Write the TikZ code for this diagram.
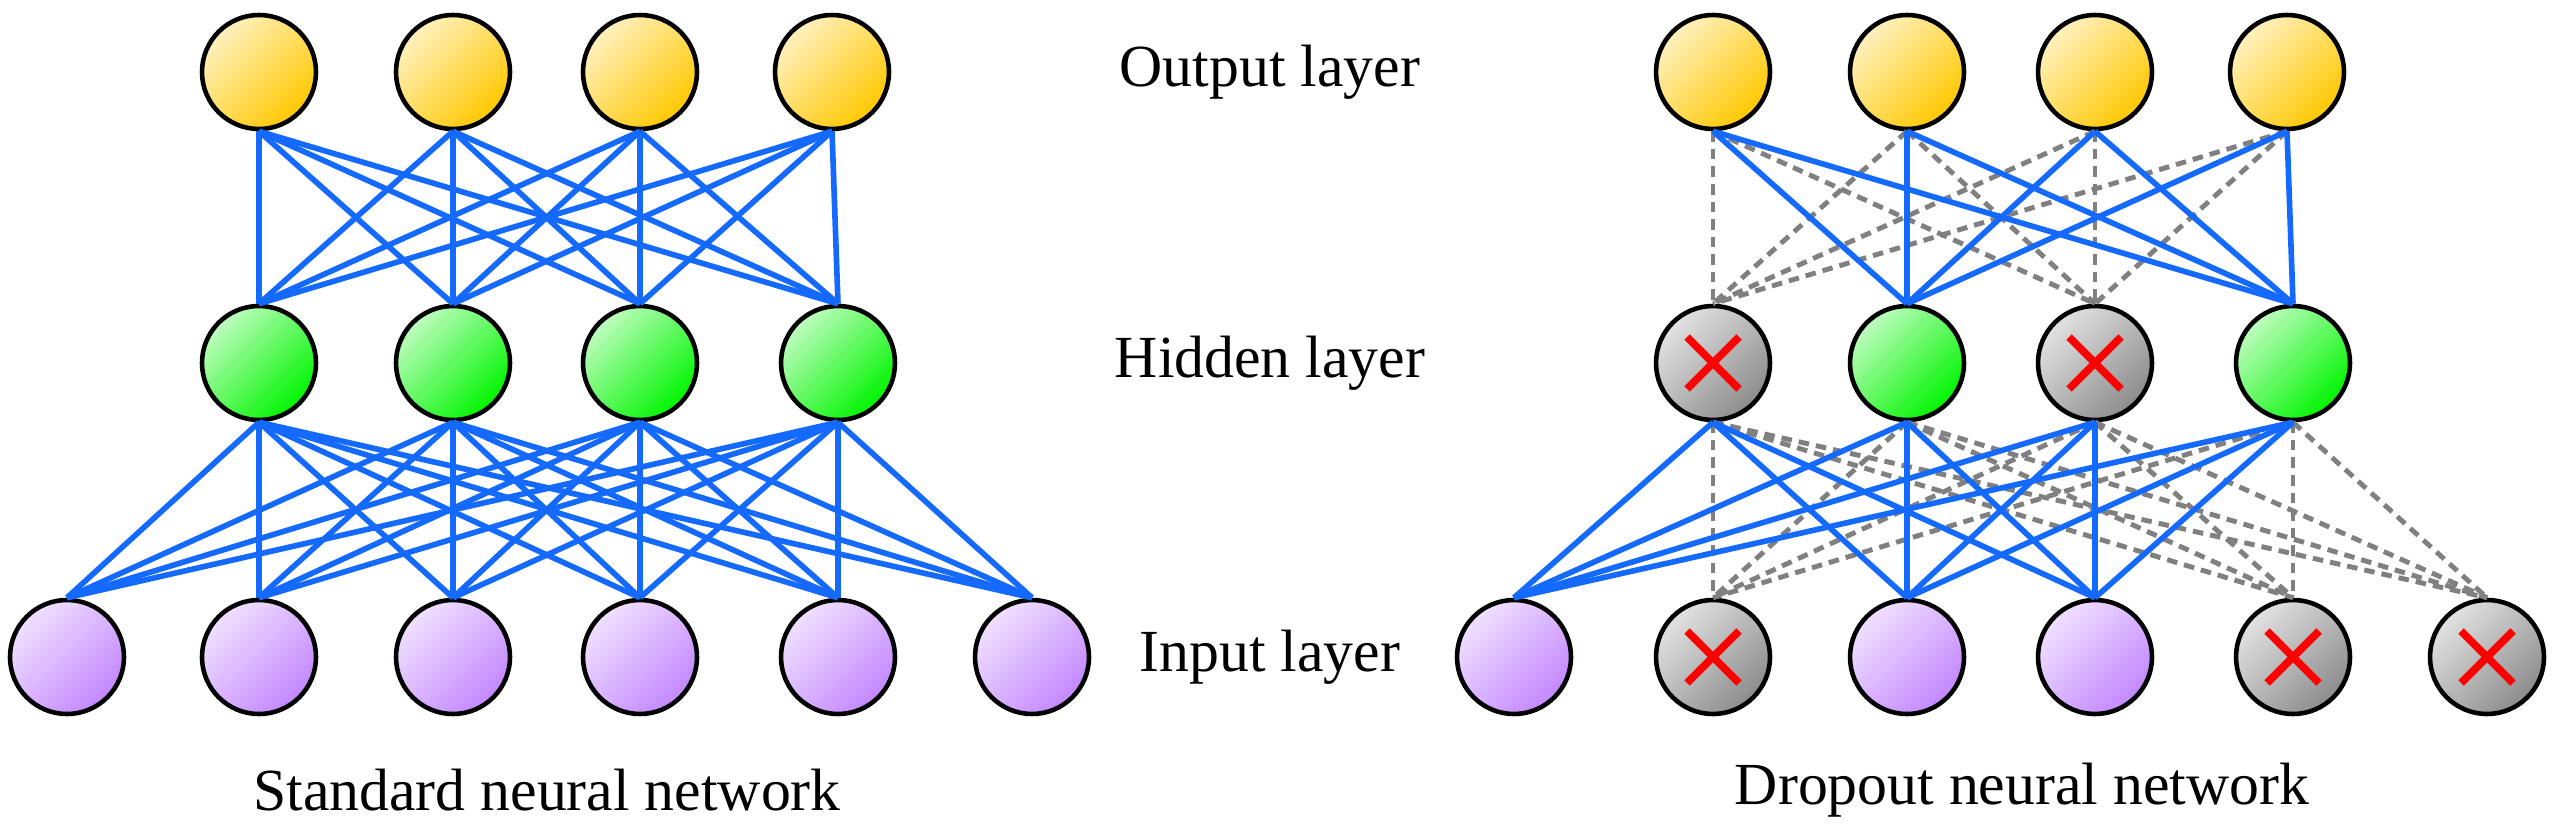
\documentclass[tikz,border=0pt]{standalone}
\usepackage{fontspec}
\setmainfont{Liberation Serif}
\usetikzlibrary{positioning}

\definecolor{linkblue}{RGB}{20,105,255}
\definecolor{outcol}{RGB}{255,200,0}
\definecolor{hidcol}{RGB}{0,245,0}
\definecolor{incol}{RGB}{195,135,255}
\definecolor{offcol}{RGB}{140,140,140}

\tikzset{
  neuron/.style={circle, draw, line width=1.3pt, minimum size=1.14cm, inner sep=0pt},
  outn/.style={neuron, top color=outcol!25, bottom color=outcol, shading angle=45},
  hidn/.style={neuron, top color=hidcol!25, bottom color=hidcol, shading angle=45},
  inn/.style={neuron, top color=incol!25, bottom color=incol, shading angle=45},
  offn/.style={neuron, top color=offcol!25, bottom color=offcol, shading angle=45},
  link/.style={linkblue, line width=1.6pt},
  dlink/.style={gray, line width=1.4pt, dash pattern=on 3pt off 2pt},
  cross/.style={red, line width=2.2pt},
  lbl/.style={font=\fontsize{17}{20}\selectfont}
}

\begin{document}
\begin{tikzpicture}[x=1cm,y=1cm]
\useasboundingbox (0,0) rectangle (25.52,8.25);

%Standard network
\foreach \i/\x in {1/2.59,2/4.53,3/6.40,4/8.32}
  \node (so\i) at (\x,7.53) [outn] {};
\foreach \i/\x in {1/2.59,2/4.53,3/6.40,4/8.38}
  \node (sh\i) at (\x,4.62) [hidn] {};
\foreach \i/\x in {1/0.67,2/2.59,3/4.53,4/6.40,5/8.38,6/10.32}
  \node (si\i) at (\x,1.68) [inn] {};

\foreach \a in {1,...,4}
  \foreach \b in {1,...,4}
    \draw[link] (so\a.south) -- (sh\b.north);
\foreach \a in {1,...,4}
  \foreach \b in {1,...,6}
    \draw[link] (sh\a.south) -- (si\b.north);

%Dropout network
\foreach \i/\x in {1/17.13,2/19.07,3/20.95,4/22.87}
  \node (do\i) at (\x,7.53) [outn] {};
\foreach \i/\x/\s in {1/17.13/offn,2/19.07/hidn,3/20.95/offn,4/22.93/hidn}
  \node (dh\i) at (\x,4.62) [\s] {};
\foreach \i/\x/\s in {1/15.14/inn,2/17.13/offn,3/19.07/inn,4/20.95/inn,5/22.93/offn,6/24.87/offn}
  \node (di\i) at (\x,1.68) [\s] {};

% dropped links first, kept links on top
\foreach \a in {1,...,4}
  \foreach \b in {1,3}
    \draw[dlink] (do\a.south) -- (dh\b.north);
\foreach \a in {1,...,4}
  \foreach \b in {2,5,6}
    \draw[dlink] (dh\a.south) -- (di\b.north);
\foreach \a in {1,...,4}
  \foreach \b in {2,4}
    \draw[link] (do\a.south) -- (dh\b.north);
\foreach \a in {1,...,4}
  \foreach \b in {1,3,4}
    \draw[link] (dh\a.south) -- (di\b.north);

\foreach \n in {dh1,dh3,di2,di5,di6}
  \draw[cross] ([shift={(-0.26,-0.26)}]\n.center) -- ([shift={(0.26,0.26)}]\n.center)
               ([shift={(-0.26,0.26)}]\n.center) -- ([shift={(0.26,-0.26)}]\n.center);

%Labels
\node (lo) at (12.70,7.53) [lbl] {Output layer};
\node (lh) at (12.70,4.62) [lbl] {Hidden layer};
\node (li) at (12.70,1.68) [lbl] {Input layer};
\node (ls) at (5.47,0.35) [lbl] {Standard neural network};
\node (ld) at (20.22,0.35) [lbl] {Dropout neural network};
\end{tikzpicture}
\end{document}
